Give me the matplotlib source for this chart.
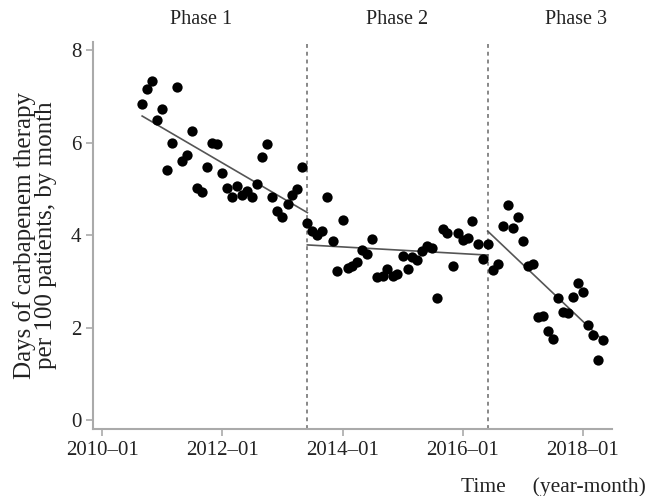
import numpy as np
import pandas as pd
import matplotlib
matplotlib.use('Agg')
import matplotlib.pyplot as plt
import matplotlib.dates as mdates
import matplotlib.transforms as mtransforms

plt.rcParams['font.family'] = ['Liberation Serif', 'DejaVu Serif']

# monthly carbapenem days per 100 patients, starting 2010-09
start_month = '2010-09-01'
days_per_100 = [
    6.85, 7.16, 7.33, 6.49, 6.73, 5.41, 6.00, 7.21, 5.60, 5.73,
    6.25, 5.03, 4.94, 5.47, 6.00, 5.97, 5.35, 5.02, 4.83, 5.06,
    4.88, 4.96, 4.83, 5.10, 5.70, 5.97, 4.83, 4.53, 4.40, 4.67,
    4.88, 4.99, 5.47,
    4.26, 4.09, 4.00, 4.10, 4.82, 3.87, 3.23, 4.34, 3.30, 3.33,
    3.42, 3.68, 3.59, 3.92, 3.10, 3.12, 3.26, 3.12, 3.16, 3.56,
    3.26, 3.52, 3.46, 3.66, 3.77, 3.72, 2.65, 4.13, 4.05, 3.34,
    4.05, 3.90, 3.95, 4.31, 3.81, 3.48, 3.82,
    3.25, 3.38, 4.21, 4.65, 4.16, 4.40, 3.87, 3.34, 3.38, 2.24,
    2.26, 1.93, 1.75, 2.65, 2.34, 2.31, 2.67, 2.96, 2.78, 2.06,
    1.85, 1.30, 1.73,
]

# segmented regression lines, one per phase
phase_bounds = ['2010-09-01', '2013-06-01', '2016-06-01', '2018-05-01']
trend_start = [6.58, 3.79, 4.09]
trend_end = [4.49, 3.57, 1.73]

phase_names = ['Phase 1', 'Phase 2', 'Phase 3']
phase_label_x = ['2011-08-25', '2014-12-01', '2017-11-20']

tick_dates = ['2010-01-01', '2012-01-01', '2014-01-01', '2016-01-01', '2018-01-01']

months = pd.date_range(start_month, periods=len(days_per_100), freq='MS')
bounds = pd.to_datetime(phase_bounds)

fig = plt.figure(figsize=(6.47, 4.96), dpi=100)
ax = fig.add_axes([0.1437, 0.1355, 0.8017, 0.7805])

ax.scatter(months, days_per_100, s=55, color='black', zorder=3, linewidths=0)

for i in range(3):
    ax.plot([bounds[i], bounds[i + 1]], [trend_start[i], trend_end[i]],
            color='#555555', linewidth=1.2, zorder=2)

for b in bounds[1:3]:
    ax.axvline(b, color='#888888', linewidth=1.4, linestyle=(0, (2, 2)), zorder=1)

ax.set_xlim(pd.Timestamp('2009-11-06'), pd.Timestamp('2018-06-25'))
ax.set_ylim(-0.19, 8.19)
ax.set_yticks([0, 2, 4, 6, 8])
ax.set_xticks(pd.to_datetime(tick_dates))
ax.xaxis.set_major_formatter(mdates.DateFormatter('%Y\u2013%m'))

for side in ['top', 'right']:
    ax.spines[side].set_visible(False)
for side in ['left', 'bottom']:
    ax.spines[side].set_color('#aaaaaa')
    ax.spines[side].set_linewidth(1.5)
ax.tick_params(colors='#aaaaaa', labelcolor='#222222', labelsize=15, width=1.2, length=5)

ax.set_ylabel('Days of carbapenem therapy\nper 100 patients, by month',
              fontsize=18, color='#222222', labelpad=10, linespacing=0.95)

trans = mtransforms.blended_transform_factory(ax.transData, ax.transAxes)
for name, lx in zip(phase_names, phase_label_x):
    ax.text(pd.Timestamp(lx), 1.058, name, transform=trans, ha='center', va='center',
            fontsize=14.5, color='#222222')

fig.text(0.998, 0.018, 'Time     (year-month)', ha='right', va='center',
         fontsize=15.5, color='#222222')

fig.savefig('out.png', dpi=100)
